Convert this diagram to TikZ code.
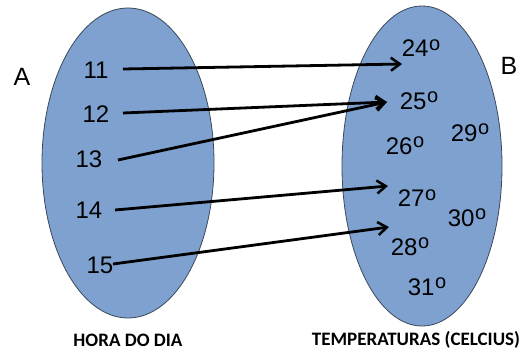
\documentclass[tikz,border=0pt]{standalone}
\usepackage{fontspec}
\setmainfont{Liberation Sans}
\newfontfamily\labfont{Carlito}[BoldFont={Carlito Bold}]
\usetikzlibrary{arrows.meta}
\definecolor{setfill}{RGB}{126,161,208}
\definecolor{setline}{RGB}{60,72,90}
\newcommand{\dg}{\kern0.5pt\raisebox{0.52ex}{\fontsize{20}{20}\selectfont o}}
\begin{document}
\begin{tikzpicture}[x=1pt,y=-1pt,
  setshape/.style={draw=setline,line width=0.8pt,fill=setfill},
  elem/.style={font=\fontsize{24}{24}\selectfont,inner sep=0pt},
  setname/.style={font=\fontsize{25}{25}\selectfont,inner sep=0pt},
  caption/.style={font=\labfont\bfseries\fontsize{19}{19}\selectfont,inner sep=0pt},
  maparrow/.style={line width=2.8pt,-{Straight Barb[length=9pt,width=13pt,line width=2.5pt]}}]
\useasboundingbox (0,0) rectangle (529,356);
\fill[white] (0,0) rectangle (529,356);
% sets
\draw[setshape] (128,163) ellipse [x radius=86, y radius=155];
\draw[setshape] (422,166) ellipse [x radius=80, y radius=160];
% set names
\node[setname] (A) at (22,77) {A};
\node[setname] (B) at (509,66) {B};
% domain elements
\node[elem] (n11) at (96,70) {11};
\node[elem] (n12) at (96,114) {12};
\node[elem] (n13) at (89,159) {13};
\node[elem] (n14) at (89,210) {14};
\node[elem] (n15) at (100,265) {15};
% codomain elements
\node[elem] (t24) at (421,48) {24\dg};
\node[elem] (t25) at (419,101) {25\dg};
\node[elem] (t26) at (405,146) {26\dg};
\node[elem] (t29) at (470,133) {29\dg};
\node[elem] (t27) at (417,198) {27\dg};
\node[elem] (t30) at (467,218) {30\dg};
\node[elem] (t28) at (410,247) {28\dg};
\node[elem] (t31) at (427,287) {31\dg};
% arrow end points
\coordinate (s11) at (123,69);
\coordinate (s12) at (123,113);
\coordinate (s13) at (118,160);
\coordinate (s14) at (115,210);
\coordinate (s15) at (113,264);
\coordinate (e24) at (402,64);
\coordinate (e25) at (387,102);
\coordinate (e27) at (388,186);
\coordinate (e28) at (389,227);
\draw[maparrow] (s11) -- (e24);
\draw[maparrow] (s12) -- (e25);
\draw[maparrow] (s13) -- (e25);
\draw[maparrow] (s14) -- (e27);
\draw[maparrow] (s15) -- (e28);
% captions
\node[caption] (capA) at (128,340) {HORA DO DIA};
\node[caption] (capB) at (416,340) {TEMPERATURAS (CELCIUS)};
\end{tikzpicture}
\end{document}
